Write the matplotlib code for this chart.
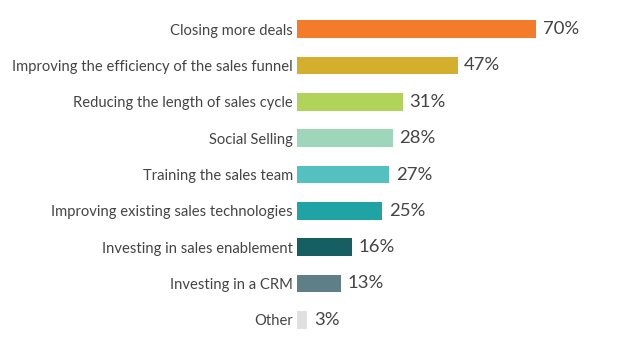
import matplotlib
matplotlib.use("Agg")
import matplotlib.pyplot as plt

# data
labels = ['Closing more deals',
          'Improving the efficiency of the sales funnel',
          'Reducing the length of sales cycle',
          'Social Selling',
          'Training the sales team',
          'Improving existing sales technologies',
          'Investing in sales enablement',
          'Investing in a CRM',
          'Other']
values = [70, 47, 31, 28, 27, 25, 16, 13, 3]
colors = ['#F47B2A', '#D4AF2E', '#B1D35A', '#9ED6BC', '#55C0C0',
          '#1FA3A5', '#155F63', '#5E7F86', '#E0E0E0']

plt.rcParams['font.family'] = ['Lato', 'DejaVu Sans']
txt = '#444444'

fig = plt.figure(figsize=(6.18, 3.46), dpi=100)
ax = fig.add_axes([297 / 618, 8 / 346, 1 - 297 / 618, 327 / 346])

ys = list(range(len(values)))
ax.barh(ys, values, height=0.49, color=colors)
ax.set_ylim(len(values) - 0.5, -0.5)
ax.set_xlim(0, 93.9)

for y, v in zip(ys, values):
    ax.text(v + 1.9, y, '%d%%' % v, va='center', ha='left', fontsize=13.3, color=txt)

ax.set_yticks(ys)
ax.set_yticklabels(labels, fontsize=10.6, color=txt)
ax.tick_params(axis='y', length=0, pad=3)
ax.set_xticks([])
for s in ax.spines.values():
    s.set_visible(False)

fig.savefig('out.png', dpi=100)
